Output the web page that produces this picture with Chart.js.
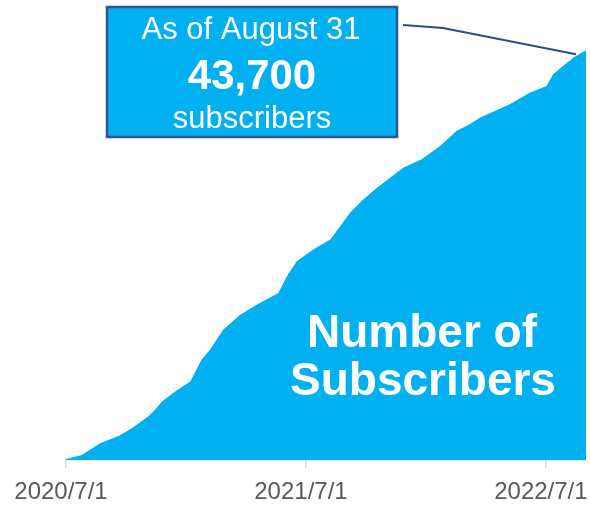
<!DOCTYPE html>
<html>
<head>
<meta charset="utf-8">
<script src="https://cdn.jsdelivr.net/npm/chart.js@4"></script>
<style>
  html, body { margin: 0; padding: 0; background: #fff; }
  #wrap { width: 590px; height: 512px; position: relative; }
</style>
</head>
<body>
<div id="wrap"><canvas id="subsChart"></canvas></div>
<script>
// days since 2020/7/1 and cumulative subscriber count
const days = [0, 24, 52, 80, 100, 125, 135, 146, 166, 189, 196, 206, 219, 239, 265, 290, 323, 336, 351, 376, 402, 417, 432, 452, 473, 513, 541, 569, 594, 614, 630, 675, 706, 731, 741, 756, 772, 791];
const subscribers = [100, 530, 1780, 2560, 3390, 4630, 5340, 6230, 7300, 8370, 9300, 10690, 11750, 13890, 15490, 16560, 17810, 19590, 21190, 22440, 23510, 24930, 26360, 27780, 29030, 31170, 32060, 33480, 35080, 35800, 36510, 37930, 39180, 39890, 41140, 42020, 42920, 43700];
const tickDays = [0, 365, 730];
const tickLabels = ['2020/7/1', '2021/7/1', '2022/7/1'];

const FONT = "'Liberation Sans', Arial, sans-serif";
const BLUE = '#00B0F0';

const points = days.map((d, i) => ({ x: d, y: subscribers[i] }));
const latest = subscribers[subscribers.length - 1];

// callout box, leader line and big caption drawn on top of the area
const overlay = {
  id: 'overlay',
  afterDraw(chart) {
    const c = chart.ctx;
    const meta = chart.getDatasetMeta(0);
    const last = meta.data[meta.data.length - 1];

    c.save();
    // leader line to the latest point
    c.strokeStyle = '#2F4A8A';
    c.lineWidth = 2;
    c.beginPath();
    c.moveTo(403, 25);
    c.lineTo(443, 28);
    c.lineTo(last.x - 10, last.y + 4);
    c.stroke();

    // callout box
    c.fillStyle = BLUE;
    c.fillRect(107, 7, 290, 130);
    c.strokeStyle = '#2F5597';
    c.lineWidth = 2.5;
    c.strokeRect(107, 7, 290, 130);

    c.fillStyle = '#fff';
    c.textAlign = 'center';
    c.textBaseline = 'alphabetic';
    c.font = '31px ' + FONT;
    c.fillText('As of August 31', 251, 39);
    c.font = 'bold 42px ' + FONT;
    c.fillText(latest.toLocaleString('en-US'), 252, 89);
    c.font = '31px ' + FONT;
    c.fillText('subscribers', 252, 128);

    // caption inside the area
    c.font = 'bold 46px ' + FONT;
    c.fillText('Number of', 422, 347);
    c.fillText('Subscribers', 423, 395);
    c.restore();
  }
};

new Chart(document.getElementById('subsChart'), {
  type: 'line',
  data: {
    datasets: [{
      data: points,
      fill: 'origin',
      backgroundColor: BLUE,
      borderWidth: 0,
      pointRadius: 0,
      tension: 0
    }]
  },
  options: {
    responsive: true,
    maintainAspectRatio: false,
    animation: false,
    layout: { padding: { left: 66, right: 4, top: 38, bottom: 0 } },
    plugins: { legend: { display: false }, tooltip: { enabled: false } },
    scales: {
      x: {
        type: 'linear',
        min: 0,
        max: days[days.length - 1],
        afterBuildTicks: (scale) => { scale.ticks = tickDays.map(v => ({ value: v })); },
        // let the last label run to the canvas edge instead of shrinking the plot
        afterFit: (scale) => {
          scale.paddingLeft = 0;
          scale.paddingRight = 0;
          scale.height = 52;
        },
        grid: { drawOnChartArea: false, drawTicks: true, tickLength: 8, color: '#D9D9D9', lineWidth: 1.5 },
        border: { display: true, color: '#D9D9D9', width: 1.5 },
        ticks: {
          autoSkip: false,
          maxRotation: 0,
          padding: 10,
          labelOffset: -5,
          color: '#595959',
          font: { family: FONT, size: 24 },
          callback: (v, i) => tickLabels[i]
        }
      },
      y: { display: false, min: 0, max: 45000 }
    }
  },
  plugins: [overlay]
});
</script>
</body>
</html>
